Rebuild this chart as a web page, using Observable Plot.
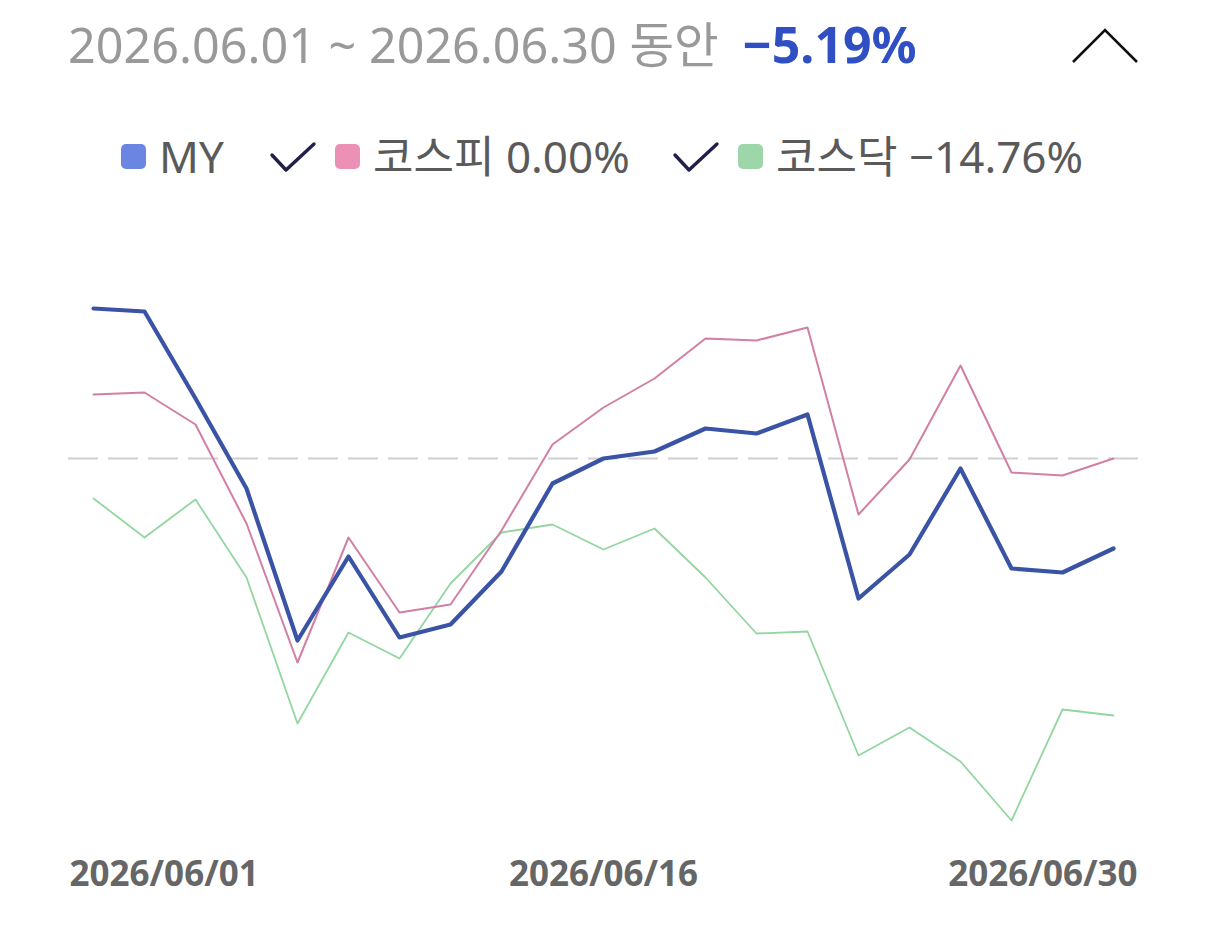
<!DOCTYPE html>
<html>
<head>
<meta charset="utf-8">
<script src="https://cdn.jsdelivr.net/npm/d3@7"></script>
<script src="https://cdn.jsdelivr.net/npm/@observablehq/plot@0.6"></script>
<style>
  html, body { margin: 0; padding: 0; background: #fff; width: 1206px; height: 927px; overflow: hidden; }
  body { position: relative; font-family: "Noto Sans", "Noto Sans CJK KR", sans-serif; }
  #title { position: absolute; left: 68px; top: 12px; font-size: 48.5px; line-height: 64px; color: #999; white-space: nowrap; }
  #title .val { color: #2f4fc2; font-weight: 700; margin-left: 24px; font-size: 50px; }
  #caret { position: absolute; left: 1068px; top: 24px; }
  #legend { position: absolute; left: 0; top: 126px; height: 60px; width: 1206px; font-size: 44px; line-height: 60px; color: #5a5a5a; white-space: nowrap; }
  .item { position: absolute; top: 0; display: flex; align-items: center; height: 60px; }
  .sw { display: inline-block; width: 25px; height: 25px; border-radius: 5px; margin-right: 13px; }
  .chk { position: absolute; top: 13px; }
  #chart { position: absolute; left: 0; top: 200px; }
</style>
</head>
<body>
<div id="title"></div>
<svg id="caret" width="74" height="44" viewBox="0 0 74 44"><polyline points="5,38 37,6 69,38" fill="none" stroke="#111" stroke-width="2.6"/></svg>
<div id="legend"></div>
<div id="chart"></div>
<script>
// ---- data ----
const dates = ["2026/06/01","2026/06/02","2026/06/04","2026/06/05","2026/06/08","2026/06/09","2026/06/10","2026/06/11","2026/06/12","2026/06/15","2026/06/16","2026/06/17","2026/06/18","2026/06/19","2026/06/22","2026/06/23","2026/06/24","2026/06/25","2026/06/26","2026/06/29","2026/06/30"];
const myValues     = [15.0, 14.7, 6.0, -3.0, -18.2, -9.8, -17.9, -16.6, -11.3, -2.5, 0.0, 0.7, 3.0, 2.5, 4.4, -14.0, -9.6, -1.0, -11.0, -11.4, -9.0];
const kospiValues  = [6.4, 6.6, 3.4, -6.5, -20.4, -7.9, -15.4, -14.6, -7.2, 1.4, 5.1, 8.0, 12.0, 11.8, 13.1, -5.6, -0.1, 9.3, -1.4, -1.7, 0.0];
const kosdaqValues = [-4.0, -7.9, -4.1, -11.9, -26.5, -17.4, -20.0, -12.5, -7.4, -6.6, -9.1, -7.0, -11.9, -17.5, -17.3, -29.7, -26.9, -30.3, -36.2, -25.1, -25.7];
const seriesNames  = ["MY", "코스피", "코스닥"];
const seriesColors = ["#3a53a4", "#d27fa5", "#93d6a0"];
const swatchColors = ["#6a86e2", "#ec90b6", "#9dd6a9"];
const seriesReturns = ["", "0.00%", "−14.76%"];
const xTickLabels  = ["2026/06/01", "2026/06/16", "2026/06/30"];
const periodLabel  = "2026.06.01 ~ 2026.06.30 동안";
const periodReturn = "−5.19%";

// ---- header ----
document.getElementById("title").innerHTML = `${periodLabel}<span class="val">${periodReturn}</span>`;
const legendPos = [{sw:121, chk:null}, {sw:335, chk:268}, {sw:738, chk:671}];
const leg = document.getElementById("legend");
seriesNames.forEach((n, i) => {
  const p = legendPos[i];
  if (p.chk !== null) {
    leg.insertAdjacentHTML("beforeend",
      `<svg class="chk" style="left:${p.chk}px" width="50" height="36" viewBox="0 0 50 36"><polyline points="4,16 18,31 46,5" fill="none" stroke="#1f1f4a" stroke-width="3.4" stroke-linejoin="round" stroke-linecap="round"/></svg>`);
  }
  leg.insertAdjacentHTML("beforeend",
    `<div class="item" style="left:${p.sw}px"><span class="sw" style="background:${swatchColors[i]}"></span><span>${n}${seriesReturns[i] ? " " + seriesReturns[i] : ""}</span></div>`);
});

// ---- chart ----
const rows = [];
[kosdaqValues, kospiValues, myValues].forEach((vals, k) => {
  const name = seriesNames[2 - k];
  vals.forEach((v, i) => rows.push({date: dates[i], value: v, series: name}));
});
const byName = name => rows.filter(r => r.series === name);

const lab = {frameAnchor: "bottom", dy: 27, text: d => d, fontSize: 35, fontWeight: 700, fill: "#666"};
const labelMarks = [
  Plot.text([xTickLabels[0]], {...lab, x: d => d, dx: -24, textAnchor: "start"}),
  Plot.text([xTickLabels[1]], {...lab, x: d => d, textAnchor: "middle"}),
  Plot.text([xTickLabels[2]], {...lab, x: d => d, dx: 24, textAnchor: "end"})
];

const chart = Plot.plot({
  width: 1206,
  height: 727,
  marginTop: 58,
  marginBottom: 69,
  marginLeft: 92,
  marginRight: 93,
  style: {fontFamily: '"Noto Sans", "Noto Sans CJK KR", sans-serif', background: "transparent"},
  x: {type: "point", domain: dates, padding: 0, axis: null},
  y: {domain: [-40, 20], axis: null},
  marks: [
    Plot.ruleY([0], {stroke: "#cfcfcf", strokeWidth: 2, strokeDasharray: "30,10", insetLeft: -24, insetRight: -27}),
    Plot.line(byName("코스닥"), {x: "date", y: "value", stroke: seriesColors[2], strokeWidth: 1.8}),
    Plot.line(byName("코스피"), {x: "date", y: "value", stroke: seriesColors[1], strokeWidth: 2}),
    Plot.line(byName("MY"), {x: "date", y: "value", stroke: seriesColors[0], strokeWidth: 4.2}),
    ...labelMarks
  ]
});
document.getElementById("chart").appendChild(chart);
</script>
</body>
</html>
